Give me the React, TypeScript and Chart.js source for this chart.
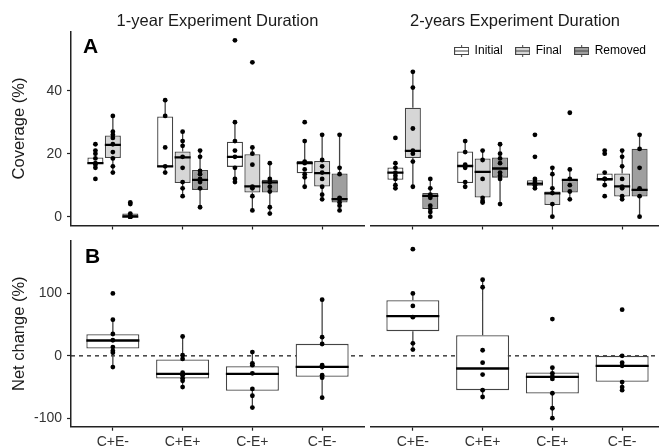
import React, { useEffect, useRef } from 'react';
import { Chart, registerables } from 'chart.js';

Chart.register(...registerables);

// ---------------- data ----------------
const CATEGORIES = ['C+E-', 'C+E+', 'C-E+', 'C-E-'];
const TREATMENTS = ['Initial', 'Final', 'Removed'];
const PANEL_TITLES = ['1-year Experiment Duration', '2-years Experiment Duration'];
const PANEL_TAGS = ['A', 'B'];
const COVER_TICKS = [0, 20, 40];
const NET_TICKS = [-100, 0, 100];
const NET_BASELINE = 0;

// box stats per category: [lower whisker, Q1, median, Q3, upper whisker]
const Y1_INITIAL_BOX = [[15.5, 16.7, 17, 18.8, 21], [14, 15.8, 16, 31.8, 37], [11, 15.8, 19, 23.8, 30], [9.5, 13.8, 17, 17.7, 24]];
const Y1_FINAL_BOX = [[14, 18.6, 22.8, 25.8, 32], [6.5, 10.7, 18.8, 20.7, 27], [2, 7.7, 9.6, 19.8, 22], [5.5, 9.6, 13.8, 17.7, 26]];
const Y1_REMOVED_BOX = [[0, 0, 0, 1, 1], [3, 8.5, 11.7, 14.8, 21], [1, 7.7, 10.9, 11.7, 17], [2, 4.5, 5.6, 13.7, 26]];
const Y1_INITIAL_PTS = [[23, 21, 20, 18.5, 17, 16.5, 15.5, 12], [37, 32, 22, 16, 14], [56, 30, 24, 21, 19, 15.5, 12, 11], [30, 24, 17.5, 17, 15, 13.5, 12.5, 9.5]];
const Y1_FINAL_PTS = [[32, 27, 26, 25, 23, 20.5, 18.5, 16, 14], [27, 24, 22.5, 19, 15.5, 11, 9, 6.5], [49, 22, 20, 16.5, 9.5, 9, 6.5, 2], [26, 18, 16, 14, 12, 9.5, 7, 5.5]];
const Y1_REMOVED_PTS = [[4.5, 4, 1, 0, 0, 0, 0, 0], [21, 19, 14.5, 13.5, 12, 11, 9, 3], [17, 12, 11, 9.5, 8, 3, 1], [26, 15.5, 13.5, 6, 5.5, 4.5, 3.5, 2]];

const Y2_INITIAL_BOX = [[9, 11.7, 14, 15.6, 17], [9.5, 10.7, 16.1, 20.7, 24], [9, 9.8, 10.5, 11.6, 12], [9.8, 11.4, 11.9, 13.7, 14]];
const Y2_FINAL_BOX = [[9.5, 18.6, 20.9, 34.6, 46], [4.5, 6.1, 14.2, 18.5, 21], [0, 3.7, 7.4, 8, 15.5], [5.5, 6.4, 9.6, 13.7, 21]];
const Y2_REMOVED_BOX = [[0, 2.4, 6.6, 7.5, 12], [4, 12.4, 15.3, 18.8, 23], [5.5, 7.7, 11.7, 11.7, 15], [0, 6.4, 8.5, 21.6, 26]];
const Y2_INITIAL_PTS = [[25, 17, 15.5, 14, 13, 12, 10, 9], [24, 20.5, 16.5, 15.5, 11, 9.5], [26, 19, 12, 11, 10.5, 10, 9], [21, 20, 14, 12, 12, 10, 6.5]];
const Y2_FINAL_PTS = [[46, 41, 28, 21, 20, 17.5, 9.5], [21, 18, 12, 6, 5, 4.5], [15.5, 13.5, 9, 7.5, 4, 0], [21, 19, 16, 12, 9.5, 9, 6.5, 5.5]];
const Y2_REMOVED_PTS = [[12, 9, 7, 6, 3.5, 2.5, 1.5, 0], [23, 20, 18.5, 17, 14, 13, 12, 4], [33, 15, 12, 10, 8, 5.5], [26, 21.5, 15.5, 9, 6.5, 0]];

const NET_Y1_BOX = [[-18, 11.8, 24.6, 34.8, 58], [-50, -36.3, -28.8, -5.9, 31], [-83, -56.1, -28.8, -16.5, 6], [-67, -33.7, -17.6, 19.2, 90]];
const NET_Y1_PTS = [[100, 58, 35, 25, 14, 8, 5, -18], [31, 1, -5, -27, -31, -36, -40, -50], [6, -12, -15, -28, -53, -64, -83], [90, 30, 19, -15, -18, -31, -35, -67]];
const NET_Y2_BOX = [[10, 39.6, 63.7, 89.3, 100], [-66, -55, -20.3, 33.2, 122], [-100, -60.3, -33.7, -26.6, -19], [-55, -41.7, -16, 0, 0]];
const NET_Y2_PTS = [[171, 100, 80, 62, 20, 10], [122, 110, 9, -11, -30, -55, -66], [59, -19, -28, -33, -37, -60, -84, -100], [74, 0, -11, -16, -42, -50, -55]];

// ---------------- style / geometry ----------------
const FONT = '"Liberation Sans", Arial, Helvetica, sans-serif';
const INK = '#1a1a1a';
const AXIS = '#222222';
const BOX_LINE = '#444444';
const FILLS = ['#ffffff', '#d6d6d6', '#9f9f9f'];

const DODGE = 0.25;
const BOX_W_TOP = 0.23;
const BOX_W_NET = 0.76;

const LEFT_CANVAS_W = 366;
const RIGHT_CANVAS_W = 293;
const TOP_CANVAS_H = 232;
const BOT_CANVAS_H = 216;
const PLOT_LEFT = 71;
const PLOT_RIGHT = 364;
const RIGHT_PLOT_LEFT = 371;
const PAGE_W = 659;
const TOP_PLOT_BOTTOM = 225.5;
const TOP_PLOT_TOP = 31.5;
const BOT_PLOT_TOP = 240.7;
const BOT_PLOT_BOTTOM = 426.7;

const X_MIN = 0.4;
const X_MAX = 4.6;
const PX_PER_X = (PLOT_RIGHT - PLOT_LEFT) / (X_MAX - X_MIN);
const X_MAX_RIGHT = X_MIN + (PAGE_W - RIGHT_PLOT_LEFT) / PX_PER_X;

const COVER_MIN = -2.8;
const COVER_MAX = 58.8;
const NET_MIN = -113.6;
const NET_MAX = 184.6;
const PX_PER_COVER = (TOP_PLOT_BOTTOM - TOP_PLOT_TOP) / (COVER_MAX - COVER_MIN);

const TITLE_SIZE = 16.5;
const TITLE_PAD_TOP = 12;
const TL_TITLE_PAD_BOTTOM = TOP_PLOT_TOP - TITLE_PAD_TOP - TITLE_SIZE * 1.2;
const TR_TITLE_PAD_BOTTOM = 0.2;
const LEGEND_SIZE = 12;
const LEGEND_PAD = 13;
const TR_PLOT_TOP = TITLE_PAD_TOP + TITLE_SIZE * 1.2 + TR_TITLE_PAD_BOTTOM + (LEGEND_SIZE + LEGEND_PAD + 10);
const COVER_MAX_RIGHT = COVER_MIN + (TOP_PLOT_BOTTOM - TR_PLOT_TOP) / PX_PER_COVER;

Chart.defaults.font.family = FONT;

type PanelSeries = { label: string; boxes: number[][]; points: number[][]; fill: string; offset: number };

const panelTagPlugin = {
  id: 'panelTag',
  afterDraw(chart: any, _args: any, opts: any) {
    if (!opts || !opts.text) return;
    const { ctx, chartArea } = chart;
    ctx.save();
    ctx.font = `bold 21px ${FONT}`;
    ctx.fillStyle = '#000';
    ctx.textAlign = 'left';
    ctx.textBaseline = 'alphabetic';
    ctx.fillText(opts.text, chartArea.left + opts.dx, chartArea.top + opts.dy);
    ctx.restore();
  },
};

function makeGlyph(fill: string) {
  const c = document.createElement('canvas');
  c.width = 15;
  c.height = 12;
  const g = c.getContext('2d')!;
  g.strokeStyle = BOX_LINE;
  g.lineWidth = 1;
  g.beginPath();
  g.moveTo(7.5, 0);
  g.lineTo(7.5, 2.5);
  g.moveTo(7.5, 9.5);
  g.lineTo(7.5, 12);
  g.stroke();
  g.fillStyle = fill;
  g.fillRect(0.5, 2.5, 14, 7);
  g.strokeRect(0.5, 2.5, 14, 7);
  g.beginPath();
  g.moveTo(0.5, 6);
  g.lineTo(14.5, 6);
  g.stroke();
  return c;
}

function boxDatasets(series: PanelSeries[], boxW: number, gap: number) {
  const out: any[] = [];
  series.forEach((s) => {
    const pos = (i: number) => i + 1 + s.offset;
    out.push({
      type: 'scatter',
      label: `${s.label} values`,
      data: s.points.flatMap((vals, i) => vals.map((v) => ({ x: pos(i), y: v }))),
      pointRadius: 2.4,
      pointBackgroundColor: '#000',
      pointBorderColor: '#000',
      pointBorderWidth: 0,
      order: 0,
    });
    out.push({
      type: 'line',
      label: `${s.label} median`,
      data: s.boxes.flatMap((b, i) => [
        { x: pos(i) - boxW / 2, y: b[2] },
        { x: pos(i) + boxW / 2, y: b[2] },
        { x: pos(i) + boxW / 2, y: null },
      ]),
      borderColor: '#000',
      borderWidth: 2.3,
      pointRadius: 0,
      spanGaps: false,
      order: 1,
    });
    out.push({
      type: 'bar',
      label: s.label,
      data: s.boxes.map((b, i) => ({ x: pos(i), y: [b[1], b[3]] })),
      backgroundColor: s.fill,
      borderColor: BOX_LINE,
      borderWidth: 1.3,
      borderSkipped: false,
      grouped: false,
      categoryPercentage: 1,
      barPercentage: boxW / gap,
      order: 2,
    });
    out.push({
      type: 'line',
      label: `${s.label} whiskers`,
      data: s.boxes.flatMap((b, i) => [
        { x: pos(i), y: b[0] },
        { x: pos(i), y: b[1] },
        { x: pos(i), y: null },
        { x: pos(i), y: b[3] },
        { x: pos(i), y: b[4] },
        { x: pos(i), y: null },
      ]),
      borderColor: BOX_LINE,
      borderWidth: 1.3,
      pointRadius: 0,
      spanGaps: false,
      order: 3,
    });
  });
  return out;
}

function panelConfig(p: {
  cover: boolean;
  right: boolean;
  series: PanelSeries[];
  title?: string;
  glyphs?: HTMLCanvasElement[];
  tag?: string;
}): any {
  const { cover, right } = p;
  const boxW = cover ? BOX_W_TOP : BOX_W_NET;
  const gap = cover ? DODGE : 1;
  const xMax = right ? X_MAX_RIGHT : X_MAX;
  const yMin = cover ? COVER_MIN : NET_MIN;
  const yMax = cover ? (right ? COVER_MAX_RIGHT : COVER_MAX) : NET_MAX;
  const datasets = boxDatasets(p.series, boxW, gap);
  if (!cover) {
    datasets.push({
      type: 'line',
      label: 'baseline',
      data: [{ x: X_MIN, y: NET_BASELINE }, { x: xMax, y: NET_BASELINE }],
      borderColor: '#222',
      borderWidth: 1.3,
      borderDash: [4, 4],
      pointRadius: 0,
      order: 9,
    });
  }
  const canvasH = cover ? TOP_CANVAS_H : BOT_CANVAS_H;
  const plotBottom = cover ? TOP_PLOT_BOTTOM : BOT_PLOT_BOTTOM - TOP_CANVAS_H;
  const xAxisH = canvasH - plotBottom;
  const tickFont = { family: FONT, size: 14 };

  const yScale: any = {
    type: 'linear',
    display: !right,
    min: yMin,
    max: yMax,
    bounds: 'data',
    beginAtZero: false,
    grid: { display: true, drawOnChartArea: false, drawTicks: true, tickLength: 4, tickColor: AXIS, tickWidth: 1.2 },
    border: { display: true, color: AXIS, width: 1.5 },
    ticks: { padding: 5, color: '#333', font: tickFont },
    title: {
      display: true,
      text: cover ? 'Coverage (%)' : 'Net change (%)',
      color: INK,
      font: { family: FONT, size: TITLE_SIZE },
      padding: { top: 10, bottom: 0 },
    },
    afterBuildTicks: (s: any) => {
      s.ticks = (cover ? COVER_TICKS : NET_TICKS).map((v) => ({ value: v }));
    },
  };
  if (!right) {
    yScale.afterFit = (s: any) => {
      s.width = PLOT_LEFT;
      s.paddingTop = 0;
      s.paddingBottom = 0;
    };
  }

  const legend = p.glyphs
    ? {
        display: true,
        position: 'top',
        align: 'end',
        labels: {
          usePointStyle: true,
          pointStyleWidth: 14,
          padding: LEGEND_PAD,
          color: INK,
          font: { family: FONT, size: LEGEND_SIZE },
          generateLabels: () =>
            TREATMENTS.map((t, i) => ({
              text: t,
              pointStyle: p.glyphs![i],
              fillStyle: FILLS[i],
              strokeStyle: BOX_LINE,
              lineWidth: 1,
              hidden: false,
              datasetIndex: i,
            })),
        },
      }
    : { display: false };

  return {
    type: 'scatter',
    data: { datasets },
    plugins: [panelTagPlugin],
    options: {
      responsive: false,
      animation: false,
      events: [],
      layout: {
        autoPadding: false,
        padding: {
          left: right ? RIGHT_PLOT_LEFT - LEFT_CANVAS_W : 0,
          right: right ? 0 : LEFT_CANVAS_W - PLOT_RIGHT,
          top: cover ? 0 : BOT_PLOT_TOP - TOP_CANVAS_H,
          bottom: 0,
        },
      },
      plugins: {
        legend,
        title: p.title
          ? {
              display: true,
              text: p.title,
              fullSize: false,
              color: INK,
              font: { family: FONT, size: TITLE_SIZE, weight: 'normal' },
              padding: { top: TITLE_PAD_TOP, bottom: right ? TR_TITLE_PAD_BOTTOM : TL_TITLE_PAD_BOTTOM },
            }
          : { display: false },
        tooltip: { enabled: false },
        panelTag: p.tag ? { text: p.tag, dx: cover ? 12 : 14, dy: cover ? 21.2 : 22.6 } : {},
      },
      scales: {
        x: {
          type: 'linear',
          min: X_MIN,
          max: xMax,
          offset: false,
          bounds: 'data',
          grid: { display: true, drawOnChartArea: false, drawTicks: true, tickLength: 4, tickColor: AXIS, tickWidth: 1.2, offset: false },
          border: { display: true, color: AXIS, width: 1.5 },
          ticks: {
            display: !cover,
            padding: 3,
            color: '#333',
            font: tickFont,
            autoSkip: false,
            maxRotation: 0,
            minRotation: 0,
            callback: (v: number) => CATEGORIES[Math.round(v) - 1] ?? '',
          },
          afterBuildTicks: (s: any) => {
            s.ticks = CATEGORIES.map((_, i) => ({ value: i + 1 }));
          },
          afterFit: (s: any) => {
            s.height = xAxisH;
            s.paddingLeft = 0;
            s.paddingRight = 0;
          },
        },
        y: yScale,
      },
    },
  };
}

function seriesFor(boxes: number[][][], points: number[][][]): PanelSeries[] {
  return TREATMENTS.map((t, i) => ({
    label: t,
    boxes: boxes[i],
    points: points[i],
    fill: FILLS[i],
    offset: (i - 1) * DODGE,
  }));
}

export default function App() {
  const tl = useRef<HTMLCanvasElement>(null);
  const tr = useRef<HTMLCanvasElement>(null);
  const bl = useRef<HTMLCanvasElement>(null);
  const br = useRef<HTMLCanvasElement>(null);

  useEffect(() => {
    const glyphs = FILLS.map((f) => makeGlyph(f));
    const charts = [
      new Chart(
        tl.current!,
        panelConfig({
          cover: true,
          right: false,
          title: PANEL_TITLES[0],
          tag: PANEL_TAGS[0],
          series: seriesFor([Y1_INITIAL_BOX, Y1_FINAL_BOX, Y1_REMOVED_BOX], [Y1_INITIAL_PTS, Y1_FINAL_PTS, Y1_REMOVED_PTS]),
        })
      ),
      new Chart(
        tr.current!,
        panelConfig({
          cover: true,
          right: true,
          title: PANEL_TITLES[1],
          glyphs,
          series: seriesFor([Y2_INITIAL_BOX, Y2_FINAL_BOX, Y2_REMOVED_BOX], [Y2_INITIAL_PTS, Y2_FINAL_PTS, Y2_REMOVED_PTS]),
        })
      ),
      new Chart(
        bl.current!,
        panelConfig({
          cover: false,
          right: false,
          tag: PANEL_TAGS[1],
          series: [{ label: 'Net change', boxes: NET_Y1_BOX, points: NET_Y1_PTS, fill: '#ffffff', offset: 0 }],
        })
      ),
      new Chart(
        br.current!,
        panelConfig({
          cover: false,
          right: true,
          series: [{ label: 'Net change', boxes: NET_Y2_BOX, points: NET_Y2_PTS, fill: '#ffffff', offset: 0 }],
        })
      ),
    ];
    return () => charts.forEach((c) => c.destroy());
  }, []);

  const abs = (left: number, top: number): React.CSSProperties => ({ position: 'absolute', left, top });

  return (
    <div style={{ position: 'absolute', left: 0, top: 0, width: PAGE_W, height: 448, background: '#fff', overflow: 'hidden' }}>
      <canvas ref={tl} width={LEFT_CANVAS_W} height={TOP_CANVAS_H} style={abs(0, 0)} />
      <canvas ref={tr} width={RIGHT_CANVAS_W} height={TOP_CANVAS_H} style={abs(LEFT_CANVAS_W, 0)} />
      <canvas ref={bl} width={LEFT_CANVAS_W} height={BOT_CANVAS_H} style={abs(0, TOP_CANVAS_H)} />
      <canvas ref={br} width={RIGHT_CANVAS_W} height={BOT_CANVAS_H} style={abs(LEFT_CANVAS_W, TOP_CANVAS_H)} />
    </div>
  );
}
